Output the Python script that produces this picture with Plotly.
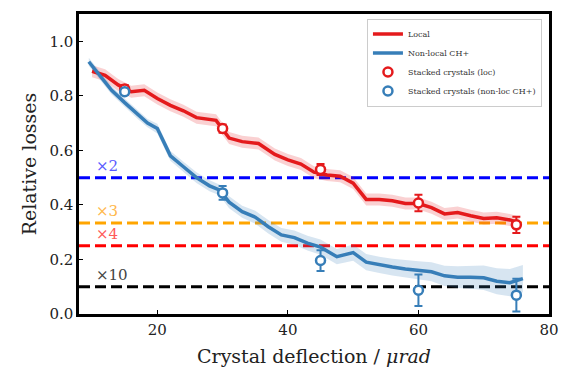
import plotly.graph_objects as go

# ---- data ----
local_x = [10, 12, 14, 16, 18, 20, 22, 24, 26, 28, 29, 31, 33, 35.5, 38, 40, 42, 44, 46, 48, 50, 52, 54, 56, 58, 60, 62, 64, 66, 68, 70, 72, 74, 75.5]
local_y = [0.89, 0.875, 0.84, 0.815, 0.82, 0.79, 0.765, 0.745, 0.72, 0.713, 0.71, 0.645, 0.632, 0.625, 0.585, 0.565, 0.55, 0.52, 0.51, 0.505, 0.48, 0.42, 0.42, 0.415, 0.405, 0.405, 0.39, 0.367, 0.372, 0.36, 0.35, 0.353, 0.345, 0.335]
local_err = [0.022] * len(local_x)

nonloc_x = [9.5, 11, 13, 15, 17, 18.5, 20, 22, 24, 26, 28, 29.5, 31, 33, 35, 37, 39, 41, 43, 45, 47.5, 50, 52, 54, 56, 58, 60, 62, 64, 66, 68, 70, 72, 74, 76]
nonloc_y = [0.925, 0.88, 0.82, 0.775, 0.73, 0.70, 0.68, 0.58, 0.54, 0.50, 0.47, 0.455, 0.41, 0.375, 0.355, 0.32, 0.29, 0.28, 0.26, 0.245, 0.21, 0.225, 0.19, 0.18, 0.172, 0.165, 0.16, 0.155, 0.14, 0.135, 0.135, 0.133, 0.12, 0.115, 0.13]
nonloc_err = [0.015, 0.015, 0.015, 0.015, 0.015, 0.015, 0.018, 0.018, 0.018, 0.02, 0.02, 0.02, 0.022, 0.022, 0.024, 0.025, 0.025, 0.026, 0.027, 0.028, 0.028, 0.03, 0.03, 0.03, 0.031, 0.032, 0.033, 0.035, 0.037, 0.04, 0.042, 0.045, 0.048, 0.05, 0.05]

stack_x = [15, 30, 45, 60, 75]
stack_loc_y = [0.825, 0.68, 0.53, 0.407, 0.327]
stack_loc_err = [0.015, 0.015, 0.02, 0.03, 0.03]
stack_nonloc_y = [0.815, 0.444, 0.196, 0.087, 0.069]
stack_nonloc_err = [0.012, 0.025, 0.038, 0.058, 0.06]

ref_levels = [0.5, 1 / 3, 0.25, 0.1]
ref_labels = ["×2", "×3", "×4", "×10"]
ref_colors = ["#0000ff", "#ffa500", "#ff0000", "#000000"]
ref_text_colors = ["#5a5aff", "#ffb84d", "#ff5a5a", "#444444"]

RED = "#e41a1c"
BLUE = "#377eb8"
FONT = "DejaVu Serif"

fig = go.Figure()

def band(x, y, e, color):
    upper = [a + b for a, b in zip(y, e)]
    lower = [a - b for a, b in zip(y, e)]
    fig.add_trace(go.Scatter(x=x + x[::-1], y=upper + lower[::-1], fill="toself",
                             fillcolor=color, line=dict(width=0), mode="lines",
                             hoverinfo="skip", showlegend=False))

# reference lines
for lvl, col in zip(ref_levels, ref_colors):
    fig.add_trace(go.Scatter(x=[8, 80], y=[lvl, lvl], mode="lines",
                             line=dict(color=col, width=3, dash="11px,5px"),
                             showlegend=False, hoverinfo="skip"))

band(local_x, local_y, local_err, "rgba(228,26,28,0.2)")
band(nonloc_x, nonloc_y, nonloc_err, "rgba(55,126,184,0.2)")

fig.add_trace(go.Scatter(x=local_x, y=local_y, mode="lines", name="Local",
                         line=dict(color=RED, width=3.5)))
fig.add_trace(go.Scatter(x=nonloc_x, y=nonloc_y, mode="lines", name="Non-local CH+",
                         line=dict(color=BLUE, width=3.5)))

fig.add_trace(go.Scatter(x=stack_x, y=stack_loc_y, mode="markers", name="Stacked crystals (loc)",
                         marker=dict(symbol="circle", size=9, color="white",
                                     line=dict(color=RED, width=2.5)),
                         error_y=dict(type="data", array=stack_loc_err, color=RED,
                                      thickness=2, width=4)))
fig.add_trace(go.Scatter(x=stack_x, y=stack_nonloc_y, mode="markers", name="Stacked crystals (non-loc CH+)",
                         marker=dict(symbol="circle", size=9, color="white",
                                     line=dict(color=BLUE, width=2.5)),
                         error_y=dict(type="data", array=stack_nonloc_err, color=BLUE,
                                      thickness=2, width=4)))

for lvl, lab, tc in zip(ref_levels, ref_labels, ref_text_colors):
    fig.add_annotation(x=10.3, y=lvl, text=lab, showarrow=False, xanchor="left",
                       yanchor="bottom", yshift=1, font=dict(family=FONT, size=15, color=tc))

fig.update_layout(
    width=570, height=380,
    margin=dict(l=79, r=11, t=12, b=66),
    plot_bgcolor="white", paper_bgcolor="white",
    font=dict(family=FONT, size=15, color="#222222"),
    showlegend=True,
    legend=dict(x=0.985, y=0.985, xanchor="right", yanchor="top",
                bgcolor="rgba(255,255,255,0.9)", bordercolor="#cccccc", borderwidth=1,
                font=dict(family=FONT, size=8, color="#333333"),
                tracegroupgap=0, itemwidth=30),
    xaxis=dict(range=[8, 80], tickvals=[20, 40, 60, 80], ticks="inside", ticklen=4,
               tickcolor="black", showgrid=False, zeroline=False, showline=True,
               linecolor="black", linewidth=2.5, mirror=True,
               title=dict(text="Crystal deflection / <i>μrad</i>",
                          font=dict(family=FONT, size=19), standoff=12),
               tickfont=dict(family=FONT, size=15)),
    yaxis=dict(range=[0, 1.1], tickvals=[0, 0.2, 0.4, 0.6, 0.8, 1.0], tickformat=".1f",
               ticks="inside", ticklen=4, tickcolor="black", showgrid=False, zeroline=False,
               showline=True, linecolor="black", linewidth=2.5, mirror=True,
               title=dict(text="Relative losses", font=dict(family=FONT, size=19), standoff=8),
               tickfont=dict(family=FONT, size=15)),
)

fig.write_html("out.html")
